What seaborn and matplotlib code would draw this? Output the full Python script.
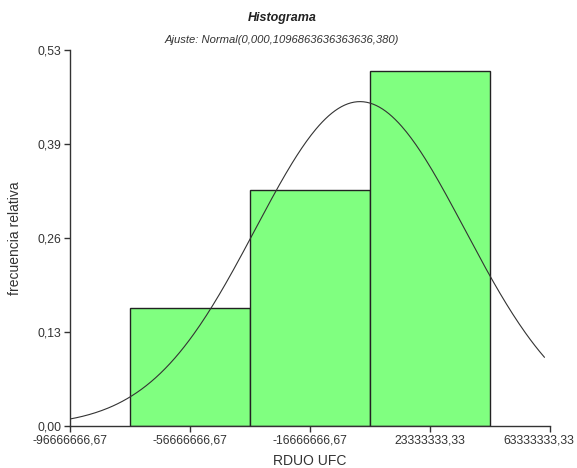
import numpy as np
import matplotlib
matplotlib.use("Agg")
import matplotlib.pyplot as plt
import matplotlib.transforms as mtransforms
import seaborn as sns

# histogram data (RDUO UFC)
bin_edges = [-76666666.67, -36666666.67, 3333333.33, 43333333.33]
rel_freq = [1 / 6, 2 / 6, 3 / 6]
bin_centers = [-56666666.67, -16666666.67, 23333333.33]

# fitted normal
fit_mean = 0.0
fit_sd = 34.9e6

x_ticks = [-96666666.67, -56666666.67, -16666666.67, 23333333.33, 63333333.33]
x_labels = ["-96666666,67", "-56666666,67", "-16666666,67", "23333333,33", "63333333,33"]
y_ticks = [0.0, 0.1325, 0.265, 0.3975, 0.53]
y_labels = ["0,00", "0,13", "0,26", "0,39", "0,53"]

sns.set_style("white")
plt.rcParams["font.family"] = ["Liberation Sans", "DejaVu Sans"]

fig = plt.figure(figsize=(5.77, 4.68), dpi=100)
ax = fig.add_axes([70 / 577, 1 - 426 / 468, 480 / 577, 376 / 468])

sns.histplot(x=bin_centers, weights=rel_freq, bins=bin_edges, stat="count",
             color="#80ff80", alpha=1, edgecolor="#222222", linewidth=1, ax=ax)

# normal curve scaled to relative frequency per bin
width = bin_edges[1] - bin_edges[0]
xs = np.linspace(x_ticks[0], 61.5e6, 300)
ys = width / (fit_sd * np.sqrt(2 * np.pi)) * np.exp(-0.5 * ((xs - fit_mean) / fit_sd) ** 2)
sns.lineplot(x=xs, y=ys, color="#333333", linewidth=0.8, ax=ax)

ax.set_xlim(x_ticks[0], x_ticks[-1])
ax.set_ylim(0, 0.53)
ax.set_xticks(x_ticks)
ax.set_xticklabels(x_labels)
ax.set_yticks(y_ticks)
ax.set_yticklabels(y_labels)
ax.tick_params(axis="both", length=4, width=1, color="#333333", labelsize=8.8,
               labelcolor="#333333", pad=2, direction="out", bottom=True, left=True)

# last x label is pushed left to stay inside the figure, as in the original
last = ax.get_xticklabels()[-1]
last.set_transform(last.get_transform() + mtransforms.ScaledTranslation(-11 / 100, 0, fig.dpi_scale_trans))

for side in ["top", "right"]:
    ax.spines[side].set_visible(False)
for side in ["left", "bottom"]:
    ax.spines[side].set_color("#333333")
    ax.spines[side].set_linewidth(1)

ax.set_xlabel("RDUO UFC", fontsize=10, color="#333333")
ax.set_ylabel("frecuencia relativa", fontsize=10, color="#333333")
ax.xaxis.set_label_coords(0.5, (426 - 461) / 376)
ax.xaxis.label.set_va("center")
ax.yaxis.set_label_coords((15 - 70) / 480, 0.5)
ax.yaxis.label.set_va("center")

fig.text(282 / 577, 1 - 18 / 468, "Histograma", ha="center", va="center",
         fontsize=9, fontweight="bold", fontstyle="italic", color="#222222")
fig.text(282 / 577, 1 - 40 / 468, "Ajuste: Normal(0,000,1096863636363636,380)",
         ha="center", va="center", fontsize=8.1, fontstyle="italic", color="#333333")

fig.savefig("out.png", dpi=100)
